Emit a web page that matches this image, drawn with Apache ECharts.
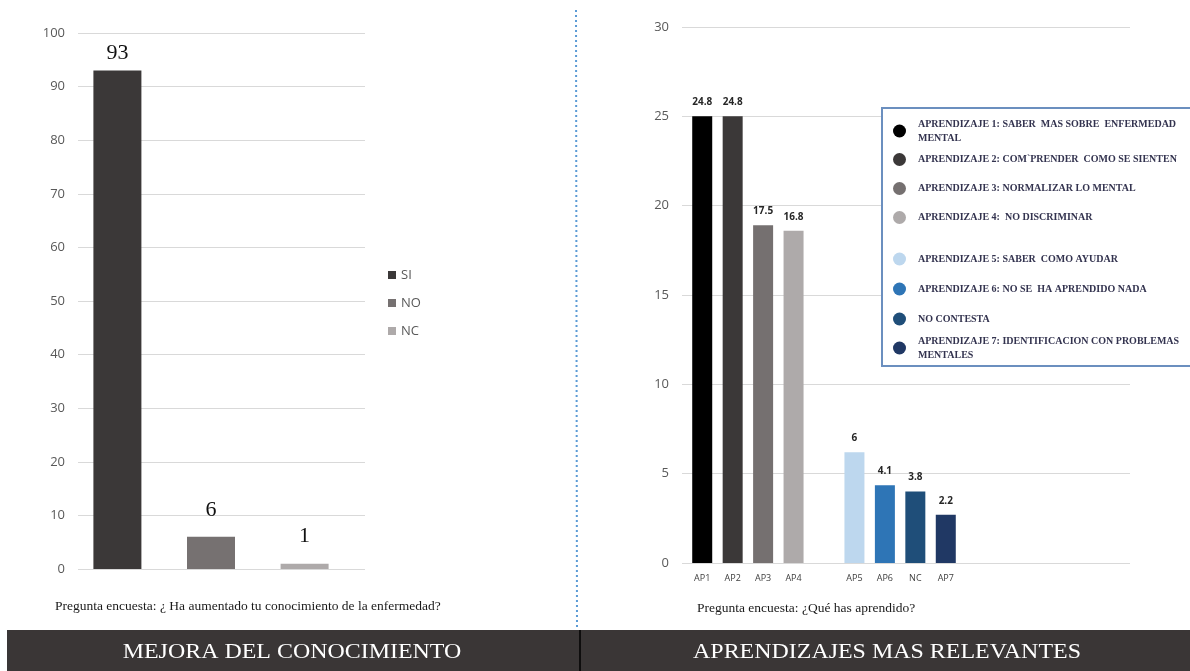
<!DOCTYPE html>
<html>
<head>
<meta charset="utf-8">
<title>Mejora del conocimiento / Aprendizajes</title>
<script src="https://cdn.jsdelivr.net/npm/echarts@6/dist/echarts.min.js"></script>
<style>
  html, body { margin: 0; padding: 0; background: #fff; }
  #chart { width: 1190px; height: 671px; }
</style>
</head>
<body>
<div id="chart"></div>
<script>
// --- datos: grafico izquierdo ---
const seriesIzq = ['SI', 'NO', 'NC']
const valoresIzq = [93, 6, 1]
const coloresIzq = ['#3b3838', '#767171', '#aeaaaa']
const ticksIzq = { min: 0, max: 100, interval: 10 }

// --- datos: grafico derecho ---
// hueco vacio entre AP4 y AP5 como en el original
const categoriasDer = ['AP1', 'AP2', 'AP3', 'AP4', '', 'AP5', 'AP6', 'NC', 'AP7']
const codigosDer = ['AP1', 'AP2', 'AP3', 'AP4', 'AP5', 'AP6', 'NC', 'AP7']
const nombresDer = [
  'APRENDIZAJE 1: SABER  MAS SOBRE  ENFERMEDAD\nMENTAL',
  'APRENDIZAJE 2: COM`PRENDER  COMO SE SIENTEN',
  'APRENDIZAJE 3: NORMALIZAR LO MENTAL',
  'APRENDIZAJE 4:  NO DISCRIMINAR',
  'APRENDIZAJE 5: SABER  COMO AYUDAR',
  'APRENDIZAJE 6: NO SE  HA APRENDIDO NADA',
  'NO CONTESTA',
  'APRENDIZAJE 7: IDENTIFICACION CON PROBLEMAS\nMENTALES'
]
const alturasDer = [25, 25, 18.9, 18.6, 6.2, 4.35, 4.0, 2.7]
const etiquetasDer = ['24.8', '24.8', '17.5', '16.8', '6', '4.1', '3.8', '2.2']
const coloresDer = ['#000000', '#3b3838', '#757070', '#aeaaaa', '#bdd7ee', '#2e75b6', '#1f4e79', '#203864']
const ticksDer = { min: 0, max: 30, interval: 5 }

const chart = echarts.init(document.getElementById('chart'))

const gris = '#595959'
const rejilla = '#d9d9d9'
const serif = '"Liberation Serif", "DejaVu Serif", serif'
const sans = '"Open Sans", "Noto Sans", sans-serif'

const hiddenCat = (gridIndex, data) => ({
  type: 'category', gridIndex, data,
  axisLine: { show: false }, axisTick: { show: false }, axisLabel: { show: false }, splitLine: { show: false }
})
const hiddenVal = (gridIndex, t) => ({
  type: 'value', gridIndex, min: t.min, max: t.max, interval: t.interval,
  axisLine: { show: false }, axisTick: { show: false }, axisLabel: { show: false }, splitLine: { show: false }
})
const visibleVal = (gridIndex, t) => ({
  type: 'value', gridIndex, min: t.min, max: t.max, interval: t.interval,
  axisLine: { show: false }, axisTick: { show: false },
  axisLabel: { color: gris, fontSize: 13, fontFamily: sans, margin: 13 },
  splitLine: { lineStyle: { color: rejilla, width: 1 } }
})

const series = []

// izquierda: una categoria, tres series
seriesIzq.forEach((name, i) => {
  series.push({
    name,
    type: 'bar',
    xAxisIndex: 2,
    yAxisIndex: 2,
    barWidth: 48,
    barGap: '95%',
    itemStyle: { color: coloresIzq[i] },
    label: {
      show: true,
      position: 'top',
      distance: i === 0 ? 6 : 16,
      color: '#111',
      fontFamily: serif,
      fontSize: 22
    },
    data: [valoresIzq[i]]
  })
})

// derecha: una serie por aprendizaje, apiladas para ocupar su propia columna
nombresDer.forEach((name, i) => {
  series.push({
    name,
    type: 'bar',
    xAxisIndex: 3,
    yAxisIndex: 3,
    stack: 'total',
    barWidth: 20,
    itemStyle: { color: coloresDer[i] },
    label: {
      show: true,
      position: 'top',
      distance: 9,
      color: '#262626',
      fontFamily: sans,
      fontWeight: 'bold',
      fontSize: 10,
      formatter: () => etiquetasDer[i]
    },
    data: categoriasDer.map(c => (c === codigosDer[i] ? alturasDer[i] : '-'))
  })
})

const legendText = { fontFamily: serif, fontSize: 10, fontWeight: 'bold', color: '#33334f', padding: [0, 0, 0, 7] }
const preguntaStyle = { fontFamily: serif, fontSize: 13.5, fontWeight: 'normal', color: '#1a1a1a' }

chart.setOption({
  animation: false,
  title: [
    {
      text: 'Pregunta encuesta: ¿ Ha aumentado tu conocimiento de la enfermedad?',
      left: 55, top: 599, padding: 0,
      textStyle: preguntaStyle
    },
    {
      text: 'Pregunta encuesta: ¿Qué has aprendido?',
      left: 697, top: 601, padding: 0,
      textStyle: preguntaStyle
    }
  ],
  legend: [
    {
      data: seriesIzq,
      orient: 'vertical',
      left: 388, top: 268,
      padding: 0,
      itemWidth: 8, itemHeight: 8, itemGap: 14,
      icon: 'rect',
      textStyle: { color: gris, fontSize: 13, fontFamily: sans, lineHeight: 14 }
    },
    {
      data: nombresDer.slice(0, 4).map((n, i) => (i === 0 ? { name: n, textStyle: { lineHeight: 14 } } : n)),
      orient: 'vertical',
      left: 893, top: 117,
      padding: 0,
      itemWidth: 13, itemHeight: 13, itemGap: 0,
      icon: 'circle',
      z: 5,
      textStyle: Object.assign({ lineHeight: 29 }, legendText)
    },
    {
      data: nombresDer.slice(4).map((n, i) => (i === 3 ? { name: n, textStyle: { lineHeight: 14 } } : n)),
      orient: 'vertical',
      left: 893, top: 244,
      padding: 0,
      itemWidth: 13, itemHeight: 13, itemGap: 0,
      icon: 'circle',
      z: 5,
      textStyle: Object.assign({ lineHeight: 30 }, legendText)
    }
  ],
  grid: [
    { left: 78, right: 825, top: 33, bottom: 102 },   // ejes izquierda
    { left: 682, right: 60, top: 27, bottom: 108 },   // ejes derecha
    { left: 77, width: 268, top: 33, bottom: 102 },   // barras izquierda
    { left: 687, width: 274, top: 27, bottom: 108 }   // barras derecha
  ],
  xAxis: [
    hiddenCat(0, ['']),
    hiddenCat(1, ['']),
    hiddenCat(2, ['MEJORA']),
    {
      type: 'category', gridIndex: 3, data: categoriasDer,
      axisLine: { show: false }, axisTick: { show: false },
      axisLabel: { color: '#404040', fontSize: 9, fontFamily: sans, margin: 11, interval: 0 },
      splitLine: { show: false }
    }
  ],
  yAxis: [
    visibleVal(0, ticksIzq),
    visibleVal(1, ticksDer),
    hiddenVal(2, ticksIzq),
    hiddenVal(3, ticksDer)
  ],
  graphic: {
    elements: [
      {
        type: 'rect', z: 3,
        shape: { x: 882, y: 108, width: 330, height: 258 },
        style: { fill: '#fff', stroke: '#6b8fbf', lineWidth: 2 }
      },
      {
        type: 'line', z: 3,
        shape: { x1: 576, y1: 10, x2: 577, y2: 630 },
        style: { stroke: '#5b9bd5', lineWidth: 2, lineDash: [2, 3] }
      },
      {
        type: 'rect', z: 3,
        shape: { x: 7, y: 630, width: 1190, height: 41 },
        style: { fill: '#3a3636' }
      },
      {
        type: 'line', z: 4,
        shape: { x1: 580, y1: 630, x2: 580, y2: 671 },
        style: { stroke: '#000', lineWidth: 1.5 }
      },
      {
        type: 'text', z: 4, x: 292, y: 652, scaleX: 1.14,
        style: {
          text: 'MEJORA DEL CONOCIMIENTO', fill: '#fff',
          font: '21px ' + serif, align: 'center', verticalAlign: 'middle'
        }
      },
      {
        type: 'text', z: 4, x: 887, y: 652, scaleX: 1.14,
        style: {
          text: 'APRENDIZAJES MAS RELEVANTES', fill: '#fff',
          font: '21px ' + serif, align: 'center', verticalAlign: 'middle'
        }
      }
    ]
  },
  series
})
</script>
</body>
</html>
